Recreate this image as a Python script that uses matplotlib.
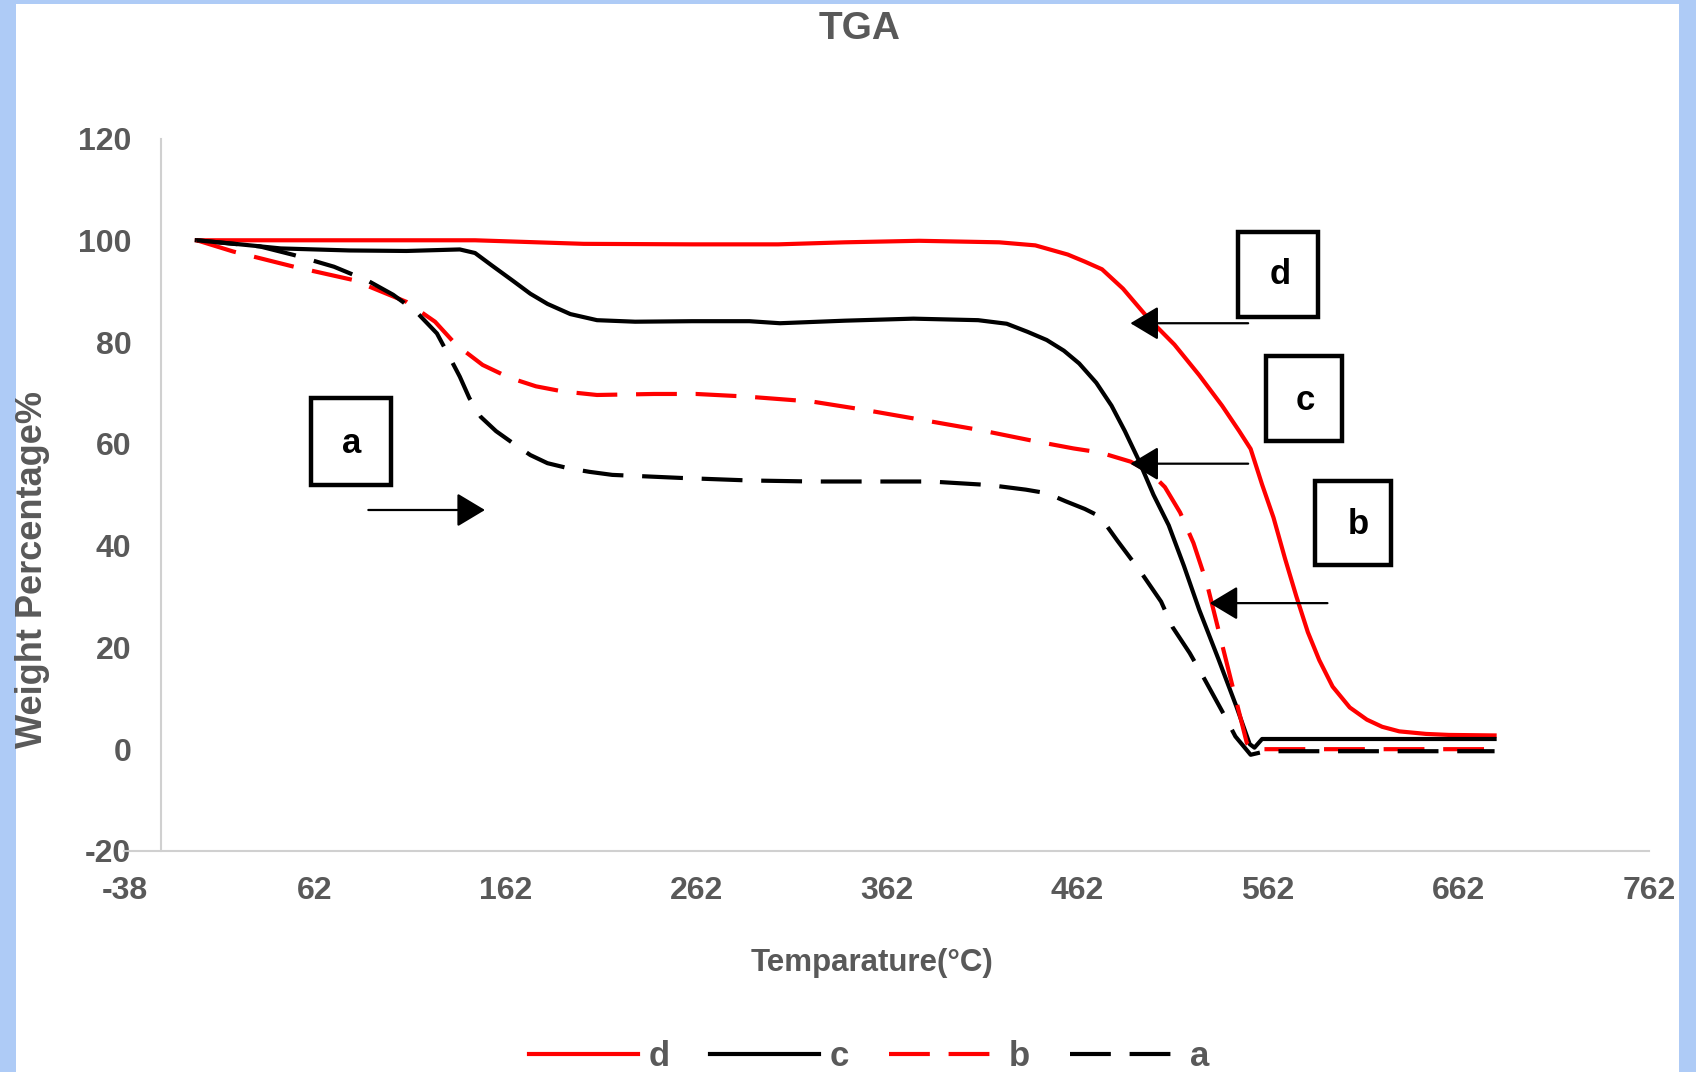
import matplotlib
matplotlib.use("Agg")
import matplotlib.pyplot as plt
import matplotlib.patches as patches
from matplotlib import font_manager

# ---- data (temperature in degC, weight %) ----
d_x = [0, 50, 100, 146, 203, 260, 305, 340, 379, 421, 440, 457, 466, 475, 486, 499, 513, 526, 538, 547,
       553, 559, 565, 571, 577, 583, 589, 596, 605, 614, 622, 631, 645, 657, 681]
d_y = [100, 100, 100, 100, 99.3, 99.2, 99.2, 99.6, 99.9, 99.6, 99.0, 97.2, 95.8, 94.3, 90.5, 84.8, 79.5, 73.5, 67.5, 62.5,
       59, 52, 45.5, 37.5, 30, 23, 17.5, 12.3, 8.2, 5.8, 4.4, 3.5, 3.0, 2.8, 2.7]

c_x = [0, 20, 44, 80, 110, 138, 146, 155, 166, 175, 184, 196, 210, 230, 260, 290, 306, 340, 376, 410,
       425, 436, 446, 455, 463, 472, 480, 487, 494, 502, 510, 518, 526, 536, 545.5, 552.5, 555, 559, 600, 681]
c_y = [100, 99.3, 98.4, 98, 97.9, 98.2, 97.5, 95, 92, 89.5, 87.5, 85.5, 84.3, 84, 84.1, 84.1, 83.7, 84.2, 84.6, 84.3,
       83.6, 82, 80.4, 78.3, 75.8, 72, 67.5, 62.5, 57, 50, 44, 36, 27.4, 17.8, 8.4, 1.0, 0.3, 2.0, 2.0, 2.0]

b_x = [0, 19, 51, 82, 110, 125, 136, 150, 164, 178, 192, 210, 240, 262, 288, 323, 350, 376, 411, 440,
       460, 474, 490, 500, 508, 516, 523, 530, 537, 544, 551, 554, 560, 681]
b_y = [100, 97.8, 94.8, 92.2, 87.9, 84, 79.5, 75.5, 73, 71.3, 70.3, 69.6, 69.8, 69.8, 69.3, 68.3, 66.7, 65, 62.7, 60.5,
       59.1, 58.3, 56.5, 54.5, 51.5, 46.5, 40.5, 32.6, 22.1, 11.6, 1.2, 0, 0, 0]

a_x = [0, 33, 51, 72, 90, 103, 115, 126, 132, 138, 143, 149, 157, 166, 175, 184, 195, 206, 218, 254,
       290, 323, 385, 416, 435, 446, 456, 466, 474, 483, 495, 506, 512, 521, 528, 539, 545, 553, 561, 681]
a_y = [100, 98.8, 97.1, 94.8, 92, 89.3, 86, 81.7, 77.5, 73.2, 69, 65.3, 62.5, 60.1, 57.8, 56.2, 55.2, 54.5, 53.9, 53.3,
       52.8, 52.6, 52.6, 51.9, 51, 50.3, 48.7, 47.2, 45.7, 41, 35, 29, 24, 18.9, 14.3, 6.8, 2.5, -1.1, -0.4, -0.4]

x_ticks = [-38, 62, 162, 262, 362, 462, 562, 662, 762]
y_ticks = [-20, 0, 20, 40, 60, 80, 100, 120]

names = {f.name for f in font_manager.fontManager.ttflist}
narrow = "Liberation Sans Narrow" if "Liberation Sans Narrow" in names else "Liberation Sans"
plt.rcParams["font.family"] = [narrow, "DejaVu Sans"]
plt.rcParams["font.weight"] = "bold"
plt.rcParams["axes.unicode_minus"] = False
grey = "#595959"

fig = plt.figure(figsize=(16.96, 10.72), dpi=100)
fig.patch.set_facecolor("#aecbf6")
fig.add_artist(patches.Rectangle((16 / 1696, 0), (1679 - 16) / 1696, (1072 - 4) / 1072,
                                 transform=fig.transFigure, facecolor="white", edgecolor="none", zorder=-5))

ax = fig.add_axes([0.07335, 0.2062, 0.8989, 0.6646])
ax.set_facecolor("none")

lw = 3.0
ax.plot(d_x, d_y, color="#ff0000", lw=lw, label="d")
ax.plot(c_x, c_y, color="black", lw=lw, label="c")
ax.plot(b_x, b_y, color="#ff0000", lw=lw, ls=(0, (9.8, 4.5)), label="b")
ax.plot(a_x, a_y, color="black", lw=lw, ls=(0, (9.8, 4.5)), label="a")

ax.set_xlim(-38, 762)
ax.set_ylim(-20, 120)
ax.set_xticks(x_ticks)
ax.set_yticks(y_ticks)
ax.tick_params(axis="both", length=0, labelsize=23, labelcolor=grey)
ax.tick_params(axis="y", pad=21)
ax.tick_params(axis="x", pad=18)
for s in ["top", "right"]:
    ax.spines[s].set_visible(False)
ax.spines["left"].set_position(("data", -19))
for s in ["left", "bottom"]:
    ax.spines[s].set_color("#d0d0d0")
    ax.spines[s].set_linewidth(1.5)

# label boxes and arrows
boxes = {"d": (546.4, 84.9, 588.4, 101.7, 568.3, 93.2),
         "c": (560.8, 60.6, 601.0, 77.3, 581.8, 68.6),
         "b": (586.7, 36.1, 626.9, 52.7, 609.4, 44.1),
         "a": (59.9, 51.9, 101.9, 69.0, 81.3, 60.1)}
for lab, (x0, y0, x1, y1, tx, ty) in boxes.items():
    ax.add_patch(patches.Rectangle((x0, y0), x1 - x0, y1 - y0, fill=False, lw=3.2, ec="black", zorder=5))
    ax.text(tx, ty, lab, ha="center", va="center", fontsize=25, color="black", zorder=6)

arrows = [((551.7, 83.7), (489.9, 83.7)),
          ((551.7, 56.1), (489.9, 56.1)),
          ((593.3, 28.7), (531.5, 28.7)),
          ((90.0, 47.0), (151.2, 47.0))]
for tail, tip in arrows:
    ax.annotate("", xy=tip, xytext=tail,
                arrowprops=dict(arrowstyle="-|>,head_length=1.25,head_width=0.75", mutation_scale=14,
                                lw=1.6, color="black", shrinkA=0, shrinkB=0), zorder=6)

fig.text(860 / 1696, 1 - 29 / 1072, "TGA", ha="center", va="center", fontsize=28, color=grey)
fig.text(872 / 1696, 1 - 963 / 1072, "Temparature(°C)", ha="center", va="center", fontsize=22.5, color=grey)
fig.text(33 / 1696, 1 - 569 / 1072, "Weight Percentage%", ha="center", va="center", rotation=90,
         fontsize=26, color=grey, family=["Liberation Sans", "DejaVu Sans"])

leg = fig.legend(loc="center", bbox_to_anchor=(0.5124, 0.0143), ncol=4, frameon=False, fontsize=25,
                 handlelength=3.15, handletextpad=0.3, columnspacing=1.15)
for t in leg.get_texts():
    t.set_color(grey)

fig.savefig("out.png", dpi=100)
